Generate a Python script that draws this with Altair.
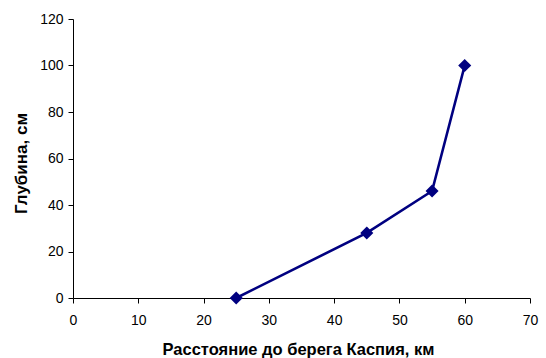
import altair as alt
import pandas as pd

distance_km = [25, 45, 55, 60]
depth_cm = [0, 28, 46, 100]

df = pd.DataFrame({"x": distance_km, "y": depth_cm})

navy = "#000080"
font = "Liberation Sans"

x_enc = alt.X(
    "x:Q",
    scale=alt.Scale(domain=[0, 70], nice=False, zero=False),
    axis=alt.Axis(
        title="Расстояние до берега Каспия, км",
        values=[0, 10, 20, 30, 40, 50, 60, 70],
        grid=False,
        ticks=True,
        tickSize=5,
        labelPadding=10,
        labelFlush=False,
        labelOverlap=False,
        titleBaseline="alphabetic",
        titleFontSize=16.5,
        titleY=56,
        titleX=225,
    ),
)
y_enc = alt.Y(
    "y:Q",
    scale=alt.Scale(domain=[0, 120], nice=False),
    axis=alt.Axis(
        title="Глубина, см",
        values=[0, 20, 40, 60, 80, 100, 120],
        grid=False,
        ticks=True,
        tickSize=5,
        labelPadding=5,
        labelFlush=False,
        labelOverlap=False,
        titleBaseline="alphabetic",
        titleFontSize=17,
        titleX=-47,
        titleY=144,
    ),
)

line = alt.Chart(df).mark_line(color=navy, strokeWidth=2.6).encode(x=x_enc, y=y_enc)
pts = alt.Chart(df).mark_point(
    shape="diamond", filled=True, color=navy, size=170, opacity=1
).encode(x="x:Q", y="y:Q")

chart = (
    alt.layer(line, pts)
    .properties(
        width=457,
        height=279,
        padding={"left": 73, "top": 19, "right": 16, "bottom": 60},
        autosize=alt.AutoSizeParams(type="none"),
        background="white",
    )
    .configure_view(stroke=None)
    .configure_axis(
        labelFont=font,
        labelFontSize=14,
        labelColor="black",
        titleFont=font,
        titleFontWeight="bold",
        titleColor="black",
        domainColor="black",
        tickColor="black",
        domainWidth=1,
        tickWidth=1,
    )
)

chart.save("out.html", embed_options={"renderer": "svg", "actions": False})
